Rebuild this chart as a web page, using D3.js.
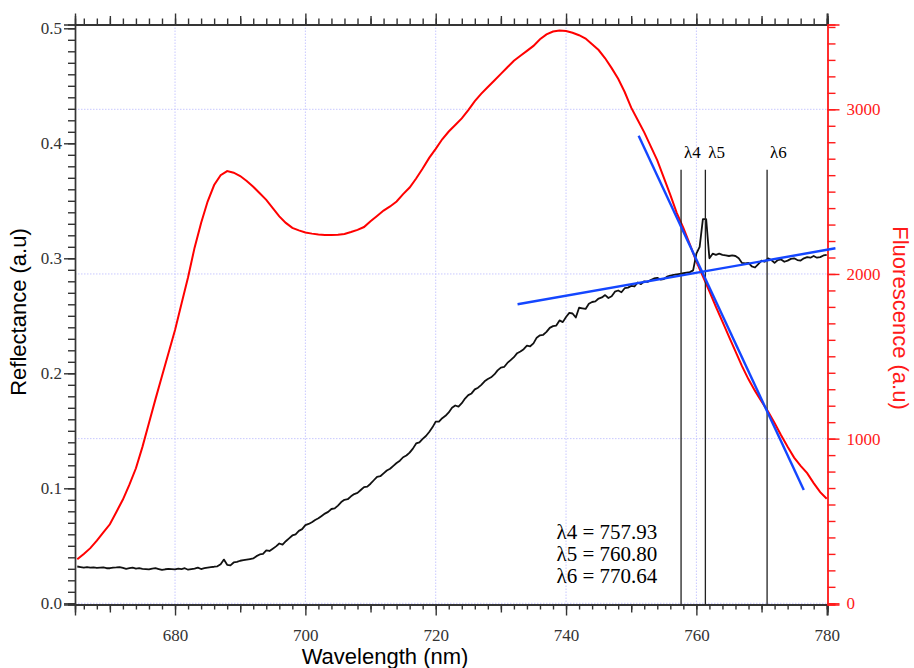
<!DOCTYPE html>
<html>
<head>
<meta charset="utf-8">
<script src="https://cdnjs.cloudflare.com/ajax/libs/d3/7.8.5/d3.min.js"></script>
<style>
  body { margin: 0; background: #fff; }
  .axisTitle { font-family: "Liberation Sans", Arial, sans-serif; font-size: 22px; }
</style>
</head>
<body>
<script>
// Fluorescence spectrum (red), 1 nm sampling
var fluorWl = d3.range(665, 781);
var fluorescence = [
  267, 300, 335, 380, 430, 480, 555, 630, 720, 820,
  950, 1095, 1240, 1380, 1520, 1660, 1820, 1980, 2160, 2310,
  2440, 2540, 2600, 2625, 2615, 2595, 2565, 2530, 2490, 2450,
  2400, 2350, 2310, 2280, 2265, 2252, 2245, 2240, 2237, 2237,
  2238, 2243, 2255, 2268, 2285, 2320, 2352, 2385, 2410, 2440,
  2485, 2525, 2580, 2640, 2705, 2760, 2818, 2865, 2905, 2945,
  2995, 3050, 3095, 3135, 3175, 3215, 3255, 3295, 3325, 3355,
  3385, 3425, 3455, 3472, 3478, 3475, 3465, 3450, 3430, 3395,
  3360, 3310, 3250, 3185, 3105, 3010, 2935, 2860, 2775, 2690,
  2585, 2480, 2370, 2280, 2180, 2075, 1985, 1895, 1800, 1710,
  1620, 1530, 1440, 1360, 1290, 1225, 1165, 1095, 1020, 950,
  885, 835, 790, 730, 675, 635
];

// Reflectance spectrum (black), 0.5 nm sampling
var reflWl = d3.range(665, 780.1, 0.5);
var reflectance = [
  .032, .0315, .031, .0315, .031, .0312, .0308, .031, .0312, .0305,
  .0305, .031, .0312, .0315, .0308, .030, .0305, .031, .0302, .0305,
  .030, .0298, .0295, .0302, .0305, .0298, .029, .0296, .030, .0298,
  .0295, .0302, .0298, .0305, .0292, .0298, .0302, .031, .0298, .0305,
  .031, .0315, .0318, .0322, .034, .038, .0335, .033, .0355, .036,
  .037, .0375, .038, .0385, .039, .041, .0425, .043, .046, .0455,
  .0475, .0495, .052, .051, .054, .0565, .059, .060, .063, .0645,
  .068, .069, .0705, .0725, .074, .076, .078, .0795, .082, .0825,
  .085, .088, .090, .0905, .093, .095, .096, .0985, .101, .1015,
  .104, .107, .110, .1105, .113, .1155, .117, .1195, .122, .124,
  .127, .1285, .131, .1345, .139, .140, .143, .1455, .149, .153,
  .158, .158, .161, .163, .166, .170, .172, .171, .174, .178,
  .181, .1825, .186, .1875, .190, .193, .195, .1965, .199, .2025,
  .205, .2055, .209, .2115, .214, .2175, .219, .221, .224, .2235,
  .226, .231, .233, .2335, .236, .2395, .241, .2415, .246, .2445,
  .249, .2525, .252, .2485, .257, .2565, .256, .2605, .262, .2625,
  .265, .266, .268, .2655, .267, .271, .272, .2705, .274, .2745,
  .276, .2755, .279, .2775, .280, .2795, .281, .2825, .283, .2815,
  .282, .284, .285, .2855, .286, .2865, .287, .2875, .288, .2895,
  .304, .310, .334, .334, .300, .304, .303, .304, .303, .3025,
  .302, .3025, .302, .300, .296, .2955, .296, .293, .292, .295,
  .298, .297, .300, .2985, .296, .2985, .299, .297, .298, .2995,
  .300, .2985, .298, .300, .301, .3005, .302, .3005, .301, .3025,
  .303
];

// Linear fits (blue)
var fluorFitWl = [751.14, 776.48];
var fluorFitVal = [2840, 688];
var reflFitWl = [732.56, 781.34];
var reflFitVal = [0.260, 0.3087];

// Red edge markers
var markerNames = ["λ4", "λ5", "λ6"];
var markerValues = [757.93, 760.80, 770.64];
var markerLineWl = [757.65, 761.38, 770.85];
var markerTop = 0.377;

// Chart Parameters
var svgWidth = 914;
var svgHeight = 668;
var margin = { top: 24.5, right: 86.5, bottom: 63.5, left: 75 };
var width = svgWidth - margin.left - margin.right;
var height = svgHeight - margin.top - margin.bottom;

var svg = d3.select("body")
            .append("svg")
            .attr("width", svgWidth)
            .attr("height", svgHeight);

var chartGroup = svg.append("g")
                    .attr("transform", `translate(${margin.left}, ${margin.top})`);

// Create scale functions
var xScale = d3.scaleLinear().domain([664.65, 780.12]).range([0, width]);
var yLeft = d3.scaleLinear().domain([-0.00104, 0.5033]).range([height, 0]);
var yRight = d3.scaleLinear().domain([-7.3, 3515]).range([height, 0]);

// Grid lines
var gridColor = "#c8c8ff";
chartGroup.selectAll(".vgrid")
          .data([680, 700, 720, 740, 760])
          .enter()
          .append("line")
          .attr("x1", d => xScale(d)).attr("x2", d => xScale(d))
          .attr("y1", 0).attr("y2", height)
          .attr("stroke", gridColor)
          .attr("stroke-dasharray", "1.5,1.5");

chartGroup.selectAll(".hgrid")
          .data([0, 1000, 2000, 3000])
          .enter()
          .append("line")
          .attr("x1", 0).attr("x2", width)
          .attr("y1", d => yRight(d)).attr("y2", d => yRight(d))
          .attr("stroke", gridColor)
          .attr("stroke-dasharray", "1.5,1.5");

// Axes
var serif = "Liberation Serif, Times New Roman, serif";

function styleAxis(g, color) {
  g.attr("font-family", serif).attr("font-size", 17);
  g.select(".domain").attr("stroke", color).attr("stroke-width", 1.4);
  g.selectAll(".tick line").attr("stroke", color).attr("stroke-width", 1.4);
  g.selectAll(".tick text")
   .attr("fill", color)
   .attr("font-family", serif)
   .attr("font-size", 17);
}

var axisGray = "#333";

// bottom: minor 2 nm, medium 10 nm, major 20 nm
chartGroup.append("g")
          .attr("transform", `translate(0, ${height})`)
          .call(d3.axisBottom(xScale).tickValues(d3.range(666, 781, 2)).tickSize(5).tickFormat(""))
          .call(g => styleAxis(g, axisGray));
chartGroup.append("g")
          .attr("transform", `translate(0, ${height})`)
          .call(d3.axisBottom(xScale).tickValues([670, 690, 710, 730, 750, 770]).tickSize(8).tickFormat(""))
          .call(g => styleAxis(g, axisGray));
chartGroup.append("g")
          .attr("transform", `translate(0, ${height})`)
          .call(d3.axisBottom(xScale).tickValues([680, 700, 720, 740, 760, 780]).tickSize(11).tickPadding(13).tickFormat(d3.format("d")))
          .call(g => styleAxis(g, axisGray));

// top (mirror)
chartGroup.append("g")
          .call(d3.axisTop(xScale).tickValues(d3.range(666, 781, 2)).tickSize(6).tickFormat(""))
          .call(g => styleAxis(g, axisGray));
chartGroup.append("g")
          .call(d3.axisTop(xScale).tickValues([670, 690, 710, 730, 750, 770]).tickSize(8.5).tickFormat(""))
          .call(g => styleAxis(g, axisGray));
chartGroup.append("g")
          .call(d3.axisTop(xScale).tickValues([680, 700, 720, 740, 760, 780]).tickSize(11).tickFormat(""))
          .call(g => styleAxis(g, axisGray));

// left: reflectance
chartGroup.append("g")
          .call(d3.axisLeft(yLeft).tickValues(d3.range(0, 0.501, 0.01)).tickSize(7).tickFormat(""))
          .call(g => styleAxis(g, axisGray));
chartGroup.append("g")
          .call(d3.axisLeft(yLeft).tickValues([0, 0.1, 0.2, 0.3, 0.4, 0.5]).tickSize(11).tickPadding(2).tickFormat(d3.format(".1f")))
          .call(g => styleAxis(g, axisGray));

// right: fluorescence
var red = "#ff1a1a";
chartGroup.append("g")
          .attr("transform", `translate(${width}, 0)`)
          .call(d3.axisRight(yRight).tickValues(d3.range(0, 3501, 100)).tickSize(8).tickFormat(""))
          .call(g => styleAxis(g, red));
chartGroup.append("g")
          .attr("transform", `translate(${width}, 0)`)
          .call(d3.axisRight(yRight).tickValues([0, 1000, 2000, 3000]).tickSize(12).tickPadding(7).tickFormat(d3.format("d")))
          .call(g => styleAxis(g, red));

// Curves
var fluorLine = d3.line()
                  .x((d, i) => xScale(fluorWl[i]))
                  .y(d => yRight(d));
chartGroup.append("path")
          .datum(fluorescence)
          .attr("d", fluorLine)
          .attr("fill", "none")
          .attr("stroke", "#ff0000")
          .attr("stroke-width", 2);

var reflLine = d3.line()
                 .x((d, i) => xScale(reflWl[i]))
                 .y(d => yLeft(d));
chartGroup.append("path")
          .datum(reflectance)
          .attr("d", reflLine)
          .attr("fill", "none")
          .attr("stroke", "#111")
          .attr("stroke-width", 1.8)
          .attr("stroke-linejoin", "round");

// Marker lines
chartGroup.selectAll(".marker")
          .data(markerLineWl)
          .enter()
          .append("line")
          .attr("x1", d => xScale(d)).attr("x2", d => xScale(d))
          .attr("y1", yLeft(markerTop)).attr("y2", height)
          .attr("stroke", "#222")
          .attr("stroke-width", 1.3);

chartGroup.selectAll(".markerLabel")
          .data(markerNames)
          .enter()
          .append("text")
          .attr("x", (d, i) => xScale(markerLineWl[i]) + 3)
          .attr("y", yLeft(markerTop) - 12)
          .attr("font-family", serif)
          .attr("font-size", 17)
          .text(d => d);

// Fit lines
chartGroup.append("line")
          .attr("x1", xScale(fluorFitWl[0])).attr("y1", yRight(fluorFitVal[0]))
          .attr("x2", xScale(fluorFitWl[1])).attr("y2", yRight(fluorFitVal[1]))
          .attr("stroke", "#1446ff")
          .attr("stroke-width", 2.4);
chartGroup.append("line")
          .attr("x1", xScale(reflFitWl[0])).attr("y1", yLeft(reflFitVal[0]))
          .attr("x2", xScale(reflFitWl[1])).attr("y2", yLeft(reflFitVal[1]))
          .attr("stroke", "#1446ff")
          .attr("stroke-width", 2.4);

// Annotation
chartGroup.selectAll(".note")
          .data(markerNames)
          .enter()
          .append("text")
          .attr("x", 481.5)
          .attr("y", (d, i) => 514.5 + i * 22)
          .attr("font-family", serif)
          .attr("font-size", 21)
          .text((d, i) => `${d} = ${markerValues[i].toFixed(2)}`);

// Axis titles
svg.append("text")
   .attr("class", "axisTitle")
   .attr("x", 385)
   .attr("y", 664)
   .attr("text-anchor", "middle")
   .text("Wavelength (nm)");

svg.append("text")
   .attr("class", "axisTitle")
   .attr("transform", "translate(26, 312) rotate(-90)")
   .attr("text-anchor", "middle")
   .text("Reflectance (a.u)");

svg.append("text")
   .attr("class", "axisTitle")
   .attr("transform", "translate(893, 318) rotate(90)")
   .attr("text-anchor", "middle")
   .attr("fill", red)
   .text("Fluorescence (a.u)");
</script>
</body>
</html>
